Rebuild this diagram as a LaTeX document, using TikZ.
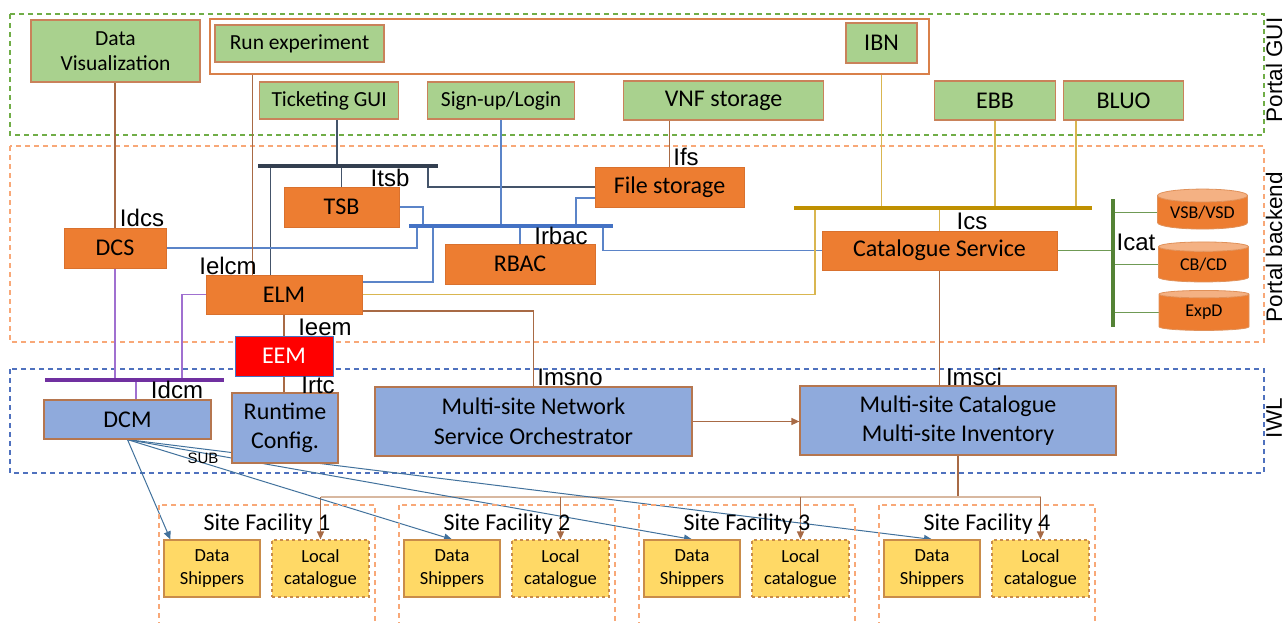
\documentclass[tikz,border=0pt]{standalone}
\usepackage{fontspec}
\setmainfont{Carlito}
\newfontfamily\arialfont{Liberation Sans}
\usetikzlibrary{shapes.geometric,arrows.meta,calc}
\pgfdeclarelayer{background}
\pgfsetlayers{background,main}

\definecolor{guigreen}{HTML}{A9D18E}
\definecolor{guiline}{HTML}{C9825A}
\definecolor{beorange}{HTML}{ED7D31}
\definecolor{beline}{HTML}{D9712E}
\definecolor{iwlblue}{HTML}{8FAADC}
\definecolor{iwlline}{HTML}{B5764F}
\definecolor{dsyellow}{HTML}{FFD966}
\definecolor{dsline}{HTML}{C98C4A}
\definecolor{cyltop}{HTML}{F4B183}
\definecolor{cylline}{HTML}{E0915A}
\definecolor{guiframe}{HTML}{70AD47}
\definecolor{beframe}{HTML}{F8A878}
\definecolor{iwlframe}{HTML}{4F71BE}
\definecolor{expline}{HTML}{D9804A}
\definecolor{tsbbus}{HTML}{333F50}
\definecolor{tsbwire}{HTML}{44546A}
\definecolor{rbacbus}{HTML}{4472C4}
\definecolor{rbacwire}{HTML}{5B84C8}
\definecolor{catbus}{HTML}{BF9000}
\definecolor{catwire}{HTML}{D9B650}
\definecolor{icatbus}{HTML}{548235}
\definecolor{icatwire}{HTML}{6F9A55}
\definecolor{dcmbus}{HTML}{7030A0}
\definecolor{dcmwire}{HTML}{A070D0}
\definecolor{brownwire}{HTML}{A86A45}
\definecolor{distwire}{HTML}{D8B8A0}
\definecolor{subwire}{HTML}{41719C}

\begin{document}
\begin{tikzpicture}
  [x=1pt,y=-1pt,
   guibox/.style={draw=guiline,fill=guigreen,line width=1.2pt,inner sep=0pt,align=center,font=\fontsize{21.5}{25}\selectfont},
   bigguibox/.style={guibox,font=\fontsize{24}{27}\selectfont},
   bebox/.style={draw=beline,fill=beorange,line width=1pt,inner sep=0pt,align=center,font=\fontsize{24}{28}\selectfont},
   iwlbox/.style={draw=iwlline,fill=iwlblue,line width=1.2pt,inner sep=0pt,align=center,font=\fontsize{24}{29.5}\selectfont},
   dsbox/.style={draw=dsline,fill=dsyellow,line width=1.2pt,inner sep=0pt,align=center,minimum width=96,minimum height=57,font=\fontsize{18.5}{22.5}\selectfont},
   lcbox/.style={dsbox,dashed,minimum width=97},
   cyl/.style={cylinder,shape border rotate=90,aspect=0.2,draw=cylline,line width=0.8pt,cylinder uses custom fill,cylinder body fill=beorange,cylinder end fill=cyltop,minimum width=90,minimum height=40,inner sep=0pt,font=\fontsize{18}{20}\selectfont},
   ifc/.style={inner sep=0pt,font=\arialfont\fontsize{24}{26}\selectfont},
   sidelabel/.style={inner sep=0pt,rotate=90,font=\arialfont\fontsize{22.5}{24}\selectfont},
   sftitle/.style={inner sep=0pt,font=\fontsize{24}{26}\selectfont},
   regionframe/.style={line width=1.2pt,dash pattern=on 5pt off 4pt},
   sfframe/.style={draw=beframe,line width=1.2pt,dash pattern=on 5pt off 4pt},
   tsbbus/.style={draw=tsbbus,line width=3.5pt},
   tsbwire/.style={draw=tsbwire,line width=1.3pt},
   rbacbus/.style={draw=rbacbus,line width=3.5pt},
   rbacwire/.style={draw=rbacwire,line width=1.3pt},
   catbus/.style={draw=catbus,line width=3.5pt},
   catwire/.style={draw=catwire,line width=1.3pt},
   icatbus/.style={draw=icatbus,line width=3.5pt},
   icatwire/.style={draw=icatwire,line width=1.3pt},
   dcmbus/.style={draw=dcmbus,line width=3.5pt},
   dcmwire/.style={draw=dcmwire,line width=1.3pt},
   brownwire/.style={draw=brownwire,line width=1.3pt},
   brownarrow/.style={brownwire,-{Triangle[length=8pt,width=7pt]}},
   distwire/.style={draw=distwire,line width=1.5pt},
   subarrow/.style={draw=subwire,line width=1pt,-{Triangle[length=8pt,width=7pt]}}]
  \useasboundingbox (0,0) rectangle (1287,623);

  % Portal GUI
  \node[draw=expline,fill=white,line width=1.5pt,minimum width=719,minimum height=55] (expbox) at (569.5,46.5) {};
  \node[guibox,minimum width=169,minimum height=62] (datavis) at (115.5,51) {Data\\Visualization};
  \node[guibox,minimum width=169,minimum height=37] (runexp) at (299.5,43.5) {Run experiment};
  \node[bigguibox,minimum width=71,minimum height=40] (ibn) at (881.5,43) {IBN};
  \node[guibox,anchor=west,minimum width=139,minimum height=37] (ticket) at (259,100.5) {Ticketing GUI};
  \node[guibox,anchor=west,minimum width=147,minimum height=37] (signup) at (427,100.5) {Sign-up/Login};
  \node[bigguibox,anchor=west,minimum width=200,minimum height=39] (vnf) at (623,100.5) {VNF storage};
  \node[bigguibox,anchor=west,minimum width=121,minimum height=39] (ebb) at (934,100.5) {EBB};
  \node[bigguibox,anchor=west,minimum width=120,minimum height=39] (bluo) at (1063,100.5) {BLUO};

  % Portal backend
  \node[bebox,minimum width=115,minimum height=40] (tsb) at (341.5,207) {TSB};
  \node[bebox,minimum width=149,minimum height=40] (filestor) at (669.5,187) {File storage};
  \node[bebox,minimum width=150,minimum height=40] (rbac) at (520,264) {RBAC};
  \node[bebox,minimum width=102,minimum height=40] (dcs) at (115,248) {DCS};
  \node[bebox,minimum width=156,minimum height=39] (elm) at (284,294.5) {ELM};
  \node[bebox,minimum width=235,minimum height=39] (catsvc) at (939.5,250.5) {Catalogue Service};
  \node[cyl] (vsb) at (1202.5,212.5) {VSB/VSD};
  \node[cyl] (cbcd) at (1203.5,264.5) {CB/CD};
  \node[cyl] (expd) at (1204,312.5) {ExpD};

  % IWL
  \node[bebox,draw=rbacbus,fill=red,text=white,minimum width=98,minimum height=40] (eem) at (284,356) {EEM};
  \node[iwlbox,minimum width=167,minimum height=39] (dcm) at (127.5,419.5) {DCM};
  \node[iwlbox,minimum width=106,minimum height=70] (runtime) at (285,428) {Runtime\\Config.};
  \node[iwlbox,minimum width=317,minimum height=69] (msno) at (533.5,421.5) {Multi-site Network\\Service Orchestrator};
  \node[iwlbox,minimum width=316,minimum height=69] (msc) at (958,420.5) {Multi-site Catalogue\\Multi-site Inventory};

  % site facilities
  \foreach \i/\x in {1/159,2/399,3/639,4/879}{
    \draw[sfframe] (\x,505) rectangle ++(216,130);
    \node[sftitle] (sf\i) at (\x+108,524) {Site Facility \i};
    \node[dsbox] (ds\i) at (\x+53,568.5) {Data\\Shippers};
    \node[lcbox] (lc\i) at (\x+161.5,568.5) {Local\\catalogue};
  }

  % interface labels
  \node[ifc] (itsb) at (390,178) {Itsb};
  \node[ifc] (ifs) at (686,157) {Ifs};
  \node[ifc] (idcs) at (142,218) {Idcs};
  \node[ifc] (ielcm) at (228,266) {Ielcm};
  \node[ifc] (irbac) at (561,236) {Irbac};
  \node[ifc] (ics) at (972,221) {Ics};
  \node[ifc] (icat) at (1136,242) {Icat};
  \node[ifc] (ieem) at (325,327) {Ieem};
  \node[ifc] (idcm) at (177,390) {Idcm};
  \node[ifc] (irtc) at (318,385) {Irtc};
  \node[ifc] (imsno) at (570,377) {Imsno};
  \node[ifc] (imsci) at (974,377) {Imsci};
  \node[inner sep=0pt,font=\arialfont\fontsize{15}{16}\selectfont] (sub) at (203,458) {SUB};
  \node[sidelabel] (lblgui) at (1274,70) {Portal GUI};
  \node[sidelabel] (lblbe) at (1274,247) {Portal backend};
  \node[sidelabel] (lbliwl) at (1274,418) {IWL};

  \coordinate (tsbL) at (258,166);
  \coordinate (tsbR) at (438,166);
  \coordinate (rbacL) at (409,226);
  \coordinate (rbacR) at (613,226);
  \coordinate (catL) at (794,208);
  \coordinate (catR) at (1092,208);
  \coordinate (icatT) at (1113,199);
  \coordinate (icatB) at (1113,327);
  \coordinate (dcmL) at (45,380);
  \coordinate (dcmR) at (224,380);
  \coordinate (dist) at (958,497);

  \begin{pgfonlayer}{background}
    % layers
    \draw[regionframe,draw=guiframe] (10,14) rectangle (1264,135);
    \draw[regionframe,draw=beframe] (10,146) rectangle (1264,342);
    \draw[regionframe,draw=iwlframe] (10,369) rectangle (1264,473);

    % ticketing bus
    \draw[tsbwire] ([xshift=78pt]ticket.south west) -- ([xshift=78pt]ticket.south west |- tsbL);
    \draw[tsbwire] (tsb.north) -- (tsb.north |- tsbL);
    \draw[tsbwire] ([xshift=65pt]elm.north west) -- ([xshift=65pt]elm.north west |- tsbL);
    \draw[tsbwire] (filestor.west) -| ([xshift=-10pt]tsbR);
    \draw[tsbbus] (tsbL) -- (tsbR);

    % rbac bus
    \draw[rbacwire] (tsb.east) -| ([xshift=14pt]rbacL);
    \draw[rbacwire] (signup.south) -- (signup.south |- rbacL);
    \draw[rbacwire] ([yshift=-11pt]filestor.west) -| ([xshift=-37pt]rbacR);
    \draw[rbacwire] (dcs.east) -| ([xshift=8pt]rbacL);
    \draw[rbacwire] ([yshift=12.5pt]elm.east) -| ([xshift=24pt]rbacL);
    \draw[rbacwire] (rbac.north) -- (rbac.north |- rbacL);
    \draw[rbacwire] (catsvc.west) -| ([xshift=-10pt]rbacR);
    \draw[rbacbus] (rbacL) -- (rbacR);

    % catalogue bus
    \draw[catwire] (ibn.south |- expbox.south) -- (ibn.south |- catL);
    \draw[catwire] (ebb.south) -- (ebb.south |- catL);
    \draw[catwire] ([xshift=13pt]bluo.south west) -- ([xshift=13pt]bluo.south west |- catL);
    \draw[catwire] (catsvc.north) -- (catsvc.north |- catL);
    \draw[catwire] (elm.east) -| ([xshift=21pt]catL);
    \draw[catbus] (catL) -- (catR);

    % Icat
    \draw[icatwire] (catsvc.east) -- (catsvc.east -| icatT);
    \foreach \db in {vsb,cbcd,expd}
      \draw[icatwire] (\db.180) -- (\db.180 -| icatT);
    \draw[icatbus] (icatT) -- (icatB);

    % brown links
    \draw[brownwire] (dcs.north |- datavis.south) -- (dcs.north);
    \draw[brownwire] (vnf.south -| filestor.north) -- (filestor.north);
    \draw[brownwire] ([xshift=47pt]elm.north west |- expbox.south) -- ([xshift=47pt]elm.north west);
    \draw[brownwire] ([yshift=-16.5pt]elm.east) -| (msno.north);
    \draw[brownwire] (catsvc.south) -- (catsvc.south |- msc.north);
    \draw[brownwire] (elm.south) -- (eem.north);
    \draw[brownwire] (eem.south) -- (eem.south |- runtime.north);
    \draw[brownarrow] (msno.east) -- (msno.east -| msc.west);
    \draw[brownwire] (msc.south) -- (dist);
    \draw[distwire] (lc1.north |- dist) -- (lc4.north |- dist);
    \foreach \i in {1,...,4}
      \draw[brownarrow] (lc\i.north |- dist) -- (lc\i.north);

    % dcm bus
    \draw[dcmwire] (dcs.south) -- (dcs.south |- dcmL);
    \draw[dcmwire] (elm.west) -| ([xshift=-42pt]dcmR);
    \draw[dcmwire] ([xshift=8.5pt]dcm.north) -- ([xshift=8.5pt]dcm.north |- dcmL);
    \draw[dcmbus] (dcmL) -- (dcmR);

    % SUB
    \draw[subarrow] (dcm.south) -- ([xshift=7pt]ds1.north west);
    \foreach \i in {2,3,4}
      \draw[subarrow] (dcm.south) -- (ds\i.north);
  \end{pgfonlayer}
\end{tikzpicture}
\end{document}
